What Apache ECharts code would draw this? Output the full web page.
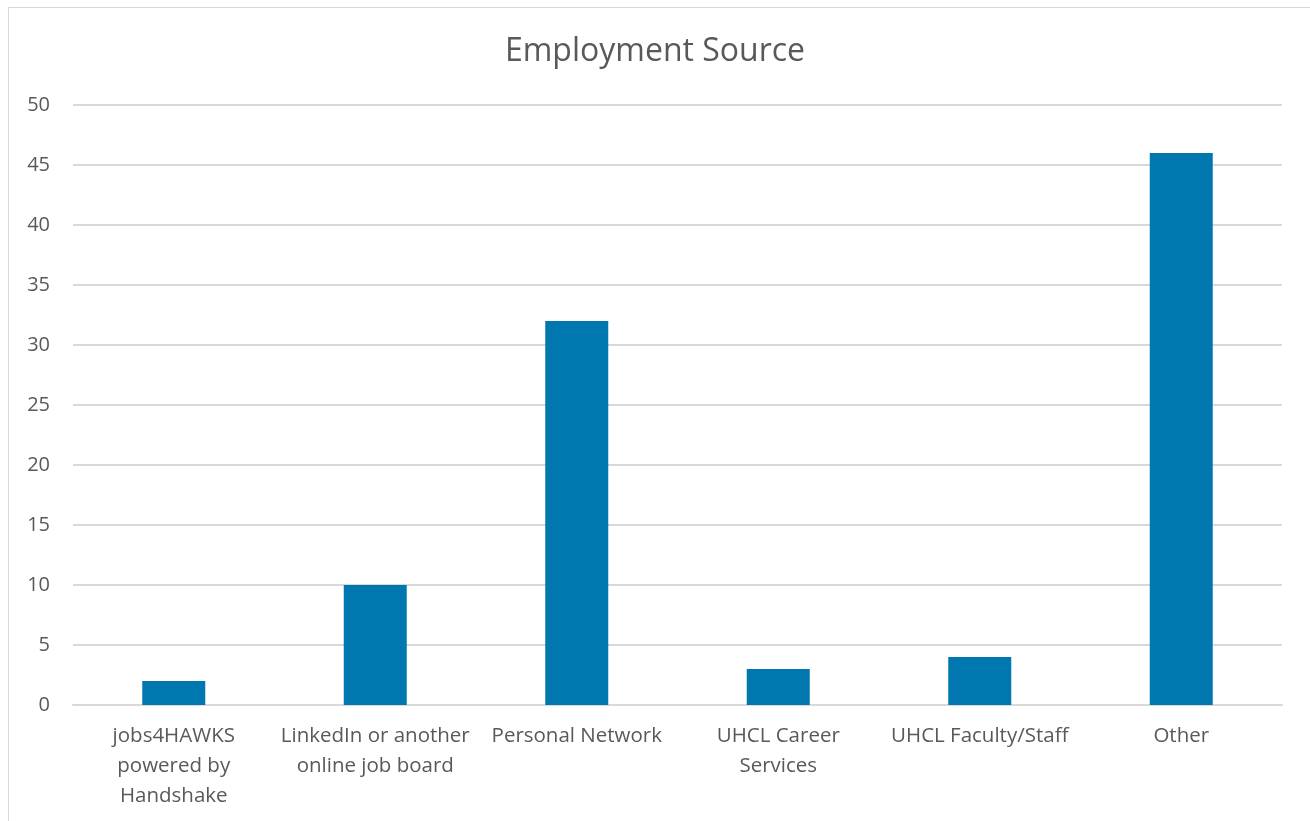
<!DOCTYPE html>
<html>
<head>
<meta charset="utf-8">
<script src="https://cdn.jsdelivr.net/npm/echarts@6/dist/echarts.min.js"></script>
<style>
    html, body { margin: 0; padding: 0; background: #fff; }
    #frame {
        position: absolute; left: 8px; top: 7px; width: 1320px; height: 840px;
        border: 1px solid #d9d9d9; box-sizing: border-box;
    }
    #chart { position: absolute; left: 0; top: 0; width: 1310px; height: 821px; }
</style>
</head>
<body>
<div id="frame"></div>
<div id="chart"></div>
<script>
let categories = ['jobs4HAWKS\npowered by\nHandshake', 'LinkedIn or another\nonline job board', 'Personal Network',
    'UHCL Career\nServices', 'UHCL Faculty/Staff', 'Other']
let counts = [2, 10, 32, 3, 4, 46]
let yTicks = [0, 50, 5]   // min, max, step

const textColor = '#595959'
const font = 'Open Sans'

option = {
    animation: false,
    title: {
        text: 'Employment Source',
        left: 'center',
        top: 31,
        textStyle: {
            color: textColor,
            fontFamily: font,
            fontWeight: 'normal',
            fontSize: 32
        }
    },
    grid: {
        left: 73,
        right: 28,
        top: 105,
        bottom: 116,
        containLabel: false
    },
    xAxis: {
        type: 'category',
        data: categories,
        axisTick: { show: false },
        axisLine: { lineStyle: { color: '#d9d9d9', width: 2 } },
        axisLabel: {
            color: textColor,
            fontFamily: font,
            fontSize: 20.5,
            lineHeight: 30,
            margin: 16,
            interval: 0
        }
    },
    yAxis: {
        type: 'value',
        min: yTicks[0],
        max: yTicks[1],
        interval: yTicks[2],
        axisLine: { show: false },
        axisTick: { show: false },
        splitLine: { lineStyle: { color: '#d9d9d9', width: 2 } },
        axisLabel: {
            color: textColor,
            fontFamily: font,
            fontSize: 20,
            margin: 23
        }
    },
    series: [
        {
            name: 'Employment Source',
            type: 'bar',
            data: counts,
            barWidth: 63,
            itemStyle: { color: '#0077ae' }
        }
    ]
}

const dom = document.getElementById('chart')
const myChart = echarts.init(dom)
if (option && typeof option === 'object') {
    myChart.setOption(option, true)
}
</script>
</body>
</html>
